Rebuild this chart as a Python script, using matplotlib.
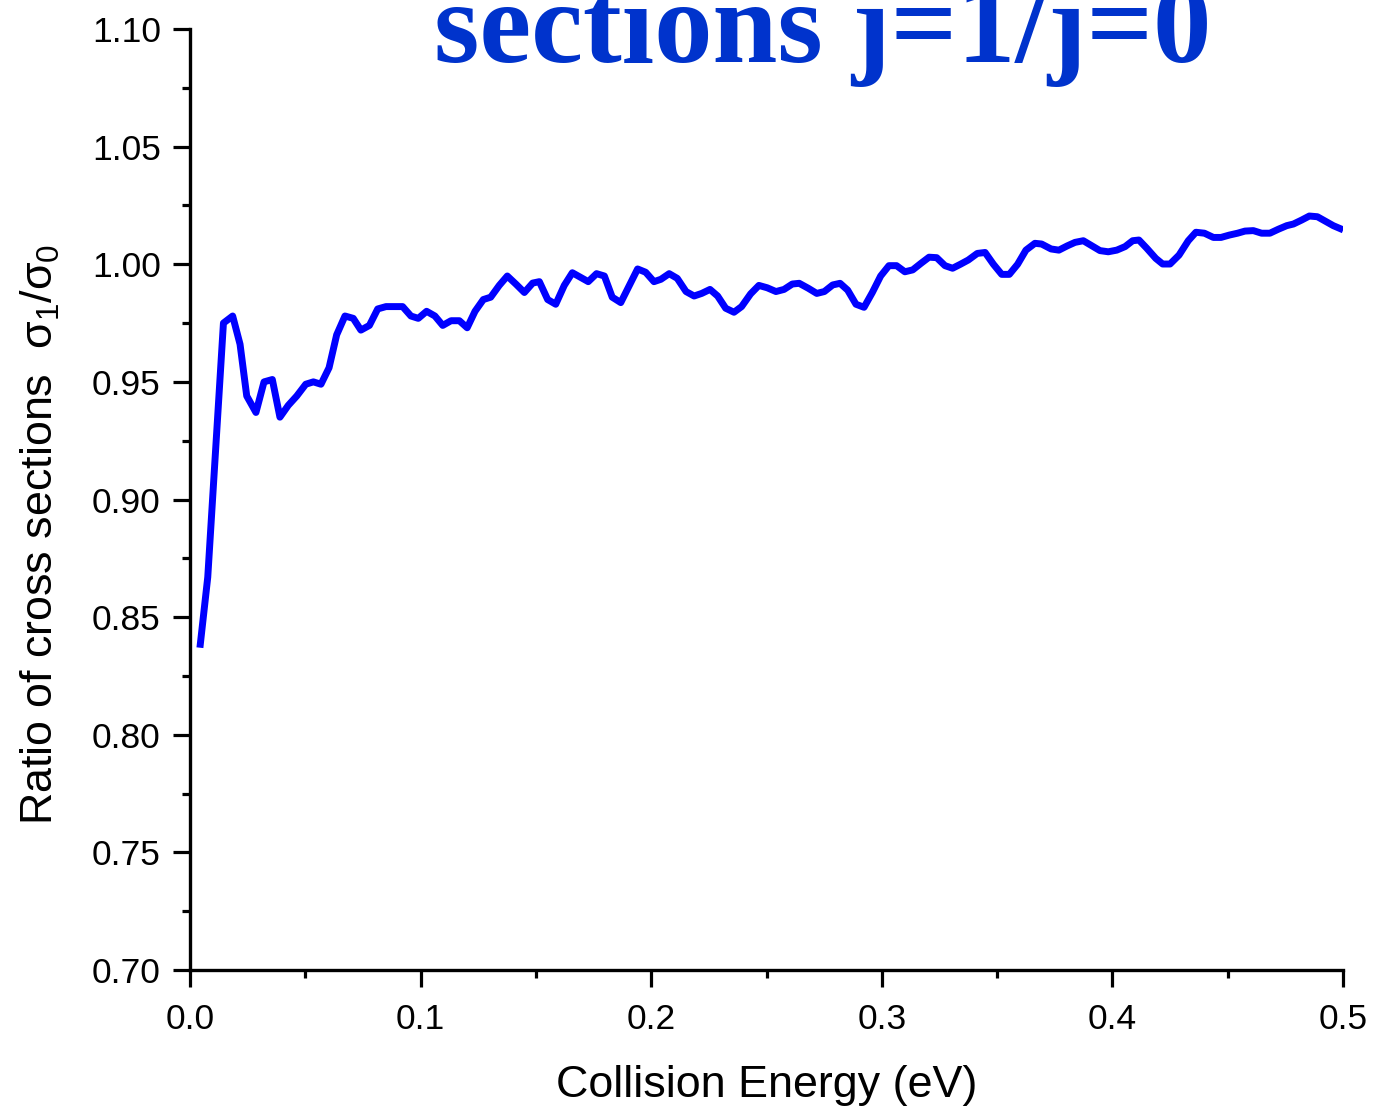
import matplotlib
matplotlib.use("Agg")
import matplotlib.pyplot as plt
from matplotlib.ticker import MultipleLocator, FormatStrFormatter

plt.rcParams['font.family'] = ['Liberation Sans', 'DejaVu Sans']
plt.rcParams['mathtext.fontset'] = 'custom'
plt.rcParams['mathtext.rm'] = 'Liberation Sans'
plt.rcParams['mathtext.it'] = 'Liberation Sans'
plt.rcParams['mathtext.bf'] = 'Liberation Sans:bold'

# Collision energy (eV) and ratio of cross sections sigma_1 / sigma_0
energy = [
    0.0043, 0.0077, 0.0145, 0.0185, 0.0217, 0.0246, 0.0286, 0.0321, 0.0357, 0.0390,
    0.0426, 0.0463, 0.0502, 0.0535, 0.0568, 0.0603, 0.0636, 0.0672, 0.0708, 0.0741,
    0.0778, 0.0814, 0.0850, 0.0886, 0.0922, 0.0958, 0.0990, 0.1026, 0.1062, 0.1096,
    0.1132, 0.1168, 0.1202, 0.1236, 0.1272, 0.1304, 0.1341, 0.1376, 0.1414, 0.1450,
    0.1486, 0.1515, 0.1551, 0.1586, 0.1623, 0.1658, 0.1727, 0.1763, 0.1797, 0.1831,
    0.1868, 0.1905, 0.1941, 0.1976, 0.2012, 0.2042, 0.2078, 0.2113, 0.2151, 0.2186,
    0.2219, 0.2255, 0.2288, 0.2323, 0.2359, 0.2392, 0.2431, 0.2467, 0.2503, 0.2541,
    0.2576, 0.2612, 0.2642, 0.2681, 0.2718, 0.2751, 0.2787, 0.2819, 0.2852, 0.2888,
    0.2923, 0.2959, 0.2995, 0.3031, 0.3064, 0.3100, 0.3134, 0.3170, 0.3205, 0.3238,
    0.3274, 0.3307, 0.3341, 0.3375, 0.3414, 0.3448, 0.3484, 0.3520, 0.3553, 0.3589,
    0.3625, 0.3664, 0.3693, 0.3734, 0.3768, 0.3804, 0.3838, 0.3874, 0.3910, 0.3946,
    0.3982, 0.4019, 0.4055, 0.4088, 0.4115, 0.4149, 0.4188, 0.4218, 0.4250, 0.4289,
    0.4329, 0.4362, 0.4399, 0.4438, 0.4471, 0.4507, 0.4543, 0.4575, 0.4611, 0.4647,
    0.4683, 0.4720, 0.4756, 0.4785, 0.4821, 0.4854, 0.4889, 0.4922, 0.4958, 0.5001,
]
ratio = [
    0.837, 0.867, 0.975, 0.978, 0.966, 0.944, 0.937, 0.950, 0.951, 0.935,
    0.940, 0.944, 0.949, 0.950, 0.949, 0.956, 0.970, 0.978, 0.977, 0.972,
    0.974, 0.981, 0.982, 0.982, 0.982, 0.978, 0.977, 0.980, 0.978, 0.974,
    0.976, 0.976, 0.973, 0.980, 0.985, 0.986, 0.991, 0.995, 0.9915, 0.988,
    0.992, 0.9926, 0.985, 0.983, 0.991, 0.9964, 0.9926, 0.996, 0.995, 0.986,
    0.9837, 0.991, 0.998, 0.9966, 0.9926, 0.9936, 0.996, 0.994, 0.9884, 0.9865,
    0.9876, 0.9893, 0.9865, 0.9813, 0.9796, 0.982, 0.9874, 0.991, 0.990, 0.9884,
    0.9893, 0.9916, 0.9919, 0.9898, 0.9876, 0.9884, 0.9912, 0.9919, 0.989, 0.983,
    0.9817, 0.988, 0.995, 0.9994, 0.9994, 0.9968, 0.9976, 1.0004, 1.003, 1.0028,
    0.9994, 0.9983, 1.0000, 1.0018, 1.0046, 1.005, 1.000, 0.9957, 0.9957, 1.000,
    1.006, 1.0089, 1.0086, 1.0065, 1.006, 1.0078, 1.0093, 1.010, 1.0079, 1.0058,
    1.0053, 1.006, 1.0075, 1.010, 1.0103, 1.0068, 1.0025, 1.0001, 1.0001, 1.0039,
    1.010, 1.0136, 1.0132, 1.0114, 1.0114, 1.0124, 1.0132, 1.0141, 1.0143, 1.0132,
    1.0132, 1.0149, 1.0164, 1.0171, 1.0188, 1.0205, 1.0202, 1.0184, 1.0164, 1.0146,
]

fig = plt.figure(figsize=(13.73, 11.11), dpi=100)
ax = fig.add_axes([190 / 1373, 141 / 1111, 1153 / 1373, 941 / 1111])

ax.plot(energy, ratio, color='#0000FF', lw=5.0, solid_capstyle='butt',
        solid_joinstyle='round')

ax.set_xlim(0.0, 0.5)
ax.set_ylim(0.70, 1.10)
ax.xaxis.set_major_locator(MultipleLocator(0.1))
ax.xaxis.set_minor_locator(MultipleLocator(0.05))
ax.yaxis.set_major_locator(MultipleLocator(0.05))
ax.yaxis.set_minor_locator(MultipleLocator(0.025))
ax.xaxis.set_major_formatter(FormatStrFormatter('%.1f'))
ax.yaxis.set_major_formatter(FormatStrFormatter('%.2f'))

for side in ('top', 'right'):
    ax.spines[side].set_visible(False)
for side in ('left', 'bottom'):
    ax.spines[side].set_linewidth(2.4)

ax.tick_params(axis='both', which='major', direction='out', length=12.5,
               width=2.3, labelsize=25.5, color='black')
ax.tick_params(axis='both', which='minor', direction='out', length=6,
               width=2.3, color='black')
ax.tick_params(axis='x', which='major', pad=11)
ax.tick_params(axis='y', which='major', pad=8.5)

fig.text(767 / 1373, 1 - 1097 / 1111, 'Collision Energy (eV)', fontsize=32.3,
         ha='center', va='baseline')
fig.text(40 / 1373, 1 - 534 / 1111,
         r'Ratio of cross sections  $\sigma_1/\sigma_0$',
         fontsize=32.3, rotation=90, ha='center', va='center')

fig.text(823 / 1373, 1 - 62 / 1111, 'sections j=1/j=0',
         fontsize=84, fontweight='bold', family='Liberation Serif',
         color='#0033CC', ha='center', va='baseline')

fig.savefig('out.png', dpi=100)
